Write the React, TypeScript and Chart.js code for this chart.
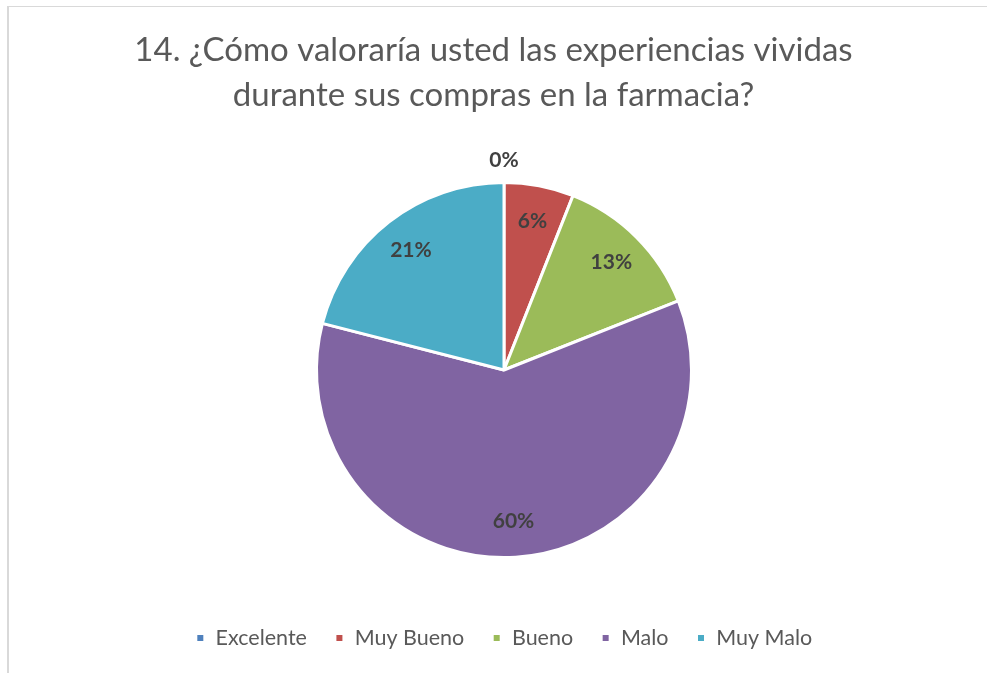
import React, { useEffect, useRef } from "react";
import { Chart, registerables, layouts } from "chart.js";

Chart.register(...registerables);

const categories = ["Excelente", "Muy Bueno", "Bueno", "Malo", "Muy Malo"];
const percentValues = [0, 6, 13, 60, 21];
const sliceColors = ["#4F81BD", "#C0504D", "#9BBB59", "#8064A2", "#4BACC6"];
const titleLines = ["14. ¿Cómo valoraría usted las experiencias vividas", "durante sus compras en la farmacia?"];

const FONT = "Lato, 'Liberation Sans', sans-serif";

function makeSpacer(position: string, size: number, weight: number) {
  return {
    position,
    weight,
    fullSize: false,
    options: {},
    width: 0,
    height: 0,
    left: 0,
    top: 0,
    right: 0,
    bottom: 0,
    isHorizontal() {
      return position === "top" || position === "bottom";
    },
    update(maxWidth: number, maxHeight: number) {
      if (this.isHorizontal()) {
        this.width = maxWidth;
        this.height = size;
      } else {
        this.width = size;
        this.height = maxHeight;
      }
    },
    draw() {},
  };
}

const spacerPlugin = {
  id: "spacers",
  beforeInit(chart: any) {
    layouts.addBox(chart, makeSpacer("left", 21, 0) as any);
    layouts.addBox(chart, makeSpacer("bottom", 40.25, 0) as any);
  },
};

const labelPlugin = {
  id: "sliceLabels",
  afterDatasetsDraw(chart: any) {
    const { ctx } = chart;
    const meta = chart.getDatasetMeta(0);
    ctx.save();
    ctx.font = `bold 21px ${FONT}`;
    ctx.fillStyle = "#404040";
    ctx.textAlign = "center";
    ctx.textBaseline = "middle";
    meta.data.forEach((arc: any, i: number) => {
      const { x, y, startAngle, endAngle, outerRadius } = arc.getProps(
        ["x", "y", "startAngle", "endAngle", "outerRadius"],
        true
      );
      const v = percentValues[i];
      const mid = (startAngle + endAngle) / 2;
      const r = v > 0 ? outerRadius * 0.81 : outerRadius + 22;
      ctx.fillText(`${v}%`, x + Math.cos(mid) * r, y + Math.sin(mid) * r);
    });
    ctx.restore();
  },
};

export default function App() {
  const canvasRef = useRef<HTMLCanvasElement | null>(null);

  useEffect(() => {
    if (!canvasRef.current) return;
    const chart = new Chart(canvasRef.current, {
      type: "pie",
      data: {
        labels: categories,
        datasets: [
          {
            data: percentValues,
            backgroundColor: sliceColors,
            borderColor: "#ffffff",
            borderWidth: 3,
          },
        ],
      },
      options: {
        responsive: false,
        animation: false,
        layout: { padding: { top: 0, left: 0, right: 0, bottom: 14.25 } },
        plugins: {
          title: {
            display: true,
            text: titleLines,
            color: "#595959",
            font: { family: FONT, size: 33, weight: "normal", lineHeight: 45 / 33 },
            padding: { top: 27.5, bottom: 63.5 },
          },
          legend: {
            display: true,
            position: "bottom",
            fullSize: false,
            labels: {
              boxWidth: 9,
              boxHeight: 9,
              padding: 28,
              color: "#595959",
              font: { family: FONT, size: 21.5 },
            },
          },
          tooltip: { enabled: false },
        },
      },
      plugins: [spacerPlugin, labelPlugin],
    });
    return () => chart.destroy();
  }, []);

  return (
    <div
      style={{
        position: "absolute",
        left: 0,
        top: 0,
        width: 987,
        height: 673,
        background: "#ffffff",
        overflow: "hidden",
      }}
    >
      <div
        style={{
          position: "absolute",
          left: 7,
          top: 6,
          width: 2000,
          height: 2000,
          borderLeft: "2px solid #d9d9d9",
          borderTop: "1px solid #d9d9d9",
        }}
      />
      <canvas
        ref={canvasRef}
        width={987}
        height={673}
        style={{ position: "absolute", left: 0, top: 0, width: 987, height: 673 }}
      />
    </div>
  );
}
